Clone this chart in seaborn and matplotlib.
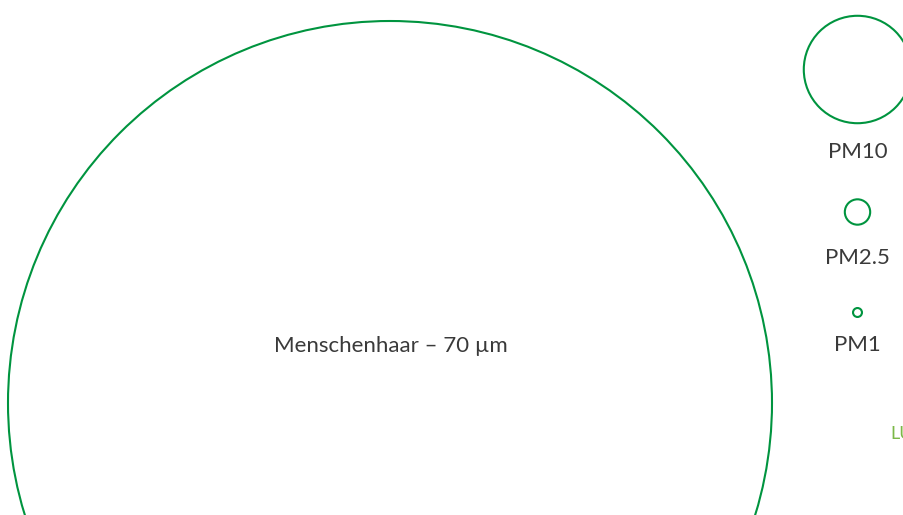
import matplotlib.pyplot as plt
from matplotlib.patches import Circle
import seaborn as sns

# Partikelgrößen (Durchmesser in µm)
labels = ["Menschenhaar – 70 µm", "PM10", "PM2.5", "PM1"]
durchmesser = [70, 10, 2.5, 1]

# Layout (Pixel)
mitte_x = [390, 857.5, 857.5, 857.5]
mitte_y = [403, 69.5, 212, 312.5]
label_y = [346, 152, 258, 345]
px_pro_um = 383 / 35  # Pixel pro µm Durchmesser

gruen = "#00943f"
text_farbe = "#3a3a3a"

sns.set_theme(style="white")
plt.rcParams['font.family'] = ['Lato', 'DejaVu Sans']

fig = plt.figure(figsize=(9.04, 5.15), dpi=100)
ax = fig.add_axes([0, 0, 1, 1])
ax.set_xlim(0, 904)
ax.set_ylim(515, 0)
ax.set_axis_off()

for lab, d, cx, cy, ly in zip(labels, durchmesser, mitte_x, mitte_y, label_y):
    r = d / 2 * px_pro_um
    ax.add_patch(Circle((cx, cy), r - 1, fill=False, edgecolor=gruen, linewidth=1.5))
    ax.text(cx + (1 if d == 70 else 0), ly, lab, ha="center", va="center",
            fontsize=16, fontweight="normal", color=text_farbe)

ax.text(890, 434, "LUBW", ha="left", va="center", fontsize=13,
        fontweight="normal", color="#7cb848")

fig.savefig("out.png", dpi=100)
